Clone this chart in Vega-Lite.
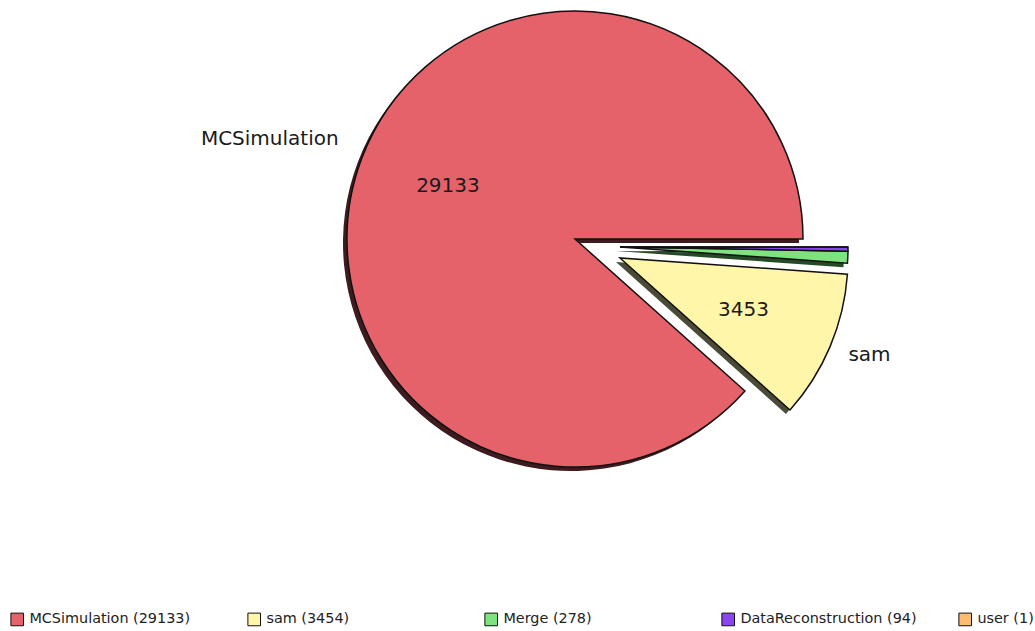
{
  "$schema": "https://vega.github.io/schema/vega-lite/v6.json",
  "width": 920,
  "height": 478,
  "padding": {"left": 115, "top": 0, "right": 0, "bottom": 153},
  "autosize": {"type": "none"},
  "background": "white",
  "config": {"view": {"stroke": null}},
  "data": {
    "values": [
      {"idx": 1, "name": "MCSimulation", "value": 29133, "shown": "29133", "legend": "MCSimulation (29133)"},
      {"idx": 2, "name": "sam", "value": 3454, "shown": "3453", "legend": "sam (3454)"},
      {"idx": 3, "name": "Merge", "value": 278, "shown": "278", "legend": "Merge (278)"},
      {"idx": 4, "name": "DataReconstruction", "value": 94, "shown": "94", "legend": "DataReconstruction (94)"},
      {"idx": 5, "name": "user", "value": 1, "shown": "1", "legend": "user (1)"}
    ]
  },
  "transform": [
    {"stack": "value", "groupby": [], "sort": [{"field": "idx", "order": "ascending"}], "as": ["s0", "s1"]}
  ],
  "layer": [
    {
      "transform": [{"filter": "datum.name === 'MCSimulation'"}],
      "mark": {"type": "arc", "outerRadius": 228, "fill": "#3d1b1e", "xOffset": -4, "yOffset": 4},
      "encoding": {
        "theta": {"field": "s0", "type": "quantitative", "scale": {"domain": [0, 32960], "range": [1.5707963268, -4.7123889804]}},
        "theta2": {"field": "s1"}
      }
    },
    {
      "transform": [{"filter": "datum.name === 'sam'"}],
      "mark": {"type": "arc", "outerRadius": 228, "fill": "#4a4a36", "xOffset": 41, "yOffset": 23},
      "encoding": {
        "theta": {"field": "s0", "type": "quantitative"},
        "theta2": {"field": "s1"}
      }
    },
    {
      "transform": [{"filter": "datum.name === 'Merge'"}],
      "mark": {"type": "arc", "outerRadius": 228, "fill": "#264a26", "xOffset": 41, "yOffset": 12},
      "encoding": {
        "theta": {"field": "s0", "type": "quantitative"},
        "theta2": {"field": "s1"}
      }
    },
    {
      "transform": [{"filter": "datum.name === 'DataReconstruction'"}],
      "mark": {"type": "arc", "outerRadius": 228, "fill": "#2a1a4a", "xOffset": 41, "yOffset": 12},
      "encoding": {
        "theta": {"field": "s0", "type": "quantitative"},
        "theta2": {"field": "s1"}
      }
    },
    {
      "transform": [{"filter": "datum.name === 'MCSimulation'"}],
      "mark": {"type": "arc", "outerRadius": 228, "stroke": "#111111", "strokeWidth": 1.5, "xOffset": 0, "yOffset": 0},
      "encoding": {
        "theta": {"field": "s0", "type": "quantitative"},
        "theta2": {"field": "s1"},
        "color": {
          "field": "legend", "type": "nominal",
          "scale": {
            "domain": ["MCSimulation (29133)", "sam (3454)", "Merge (278)", "DataReconstruction (94)", "user (1)"],
            "range": ["#e6626a", "#fff6aa", "#7ee27e", "#8a46ee", "#ffbb6e"]
          },
          "legend": {
            "title": null, "orient": "none", "legendX": -105, "legendY": 612,
            "direction": "horizontal", "columns": 5, "gridAlign": "all", "columnPadding": 39,
            "symbolType": "square", "symbolSize": 160, "symbolStrokeColor": "#555555", "symbolStrokeWidth": 1,
            "labelFont": "DejaVu Sans", "labelFontSize": 14.4, "labelColor": "#222222", "labelOffset": 5,
            "padding": 0, "labelLimit": 300
          }
        }
      }
    },
    {
      "transform": [{"filter": "datum.name === 'sam'"}],
      "mark": {"type": "arc", "outerRadius": 228, "stroke": "#111111", "strokeWidth": 1.5, "xOffset": 45, "yOffset": 19},
      "encoding": {
        "theta": {"field": "s0", "type": "quantitative"},
        "theta2": {"field": "s1"},
        "color": {"field": "legend", "type": "nominal"}
      }
    },
    {
      "transform": [{"filter": "datum.name === 'Merge'"}],
      "mark": {"type": "arc", "outerRadius": 228, "stroke": "#111111", "strokeWidth": 1.5, "xOffset": 45, "yOffset": 8},
      "encoding": {
        "theta": {"field": "s0", "type": "quantitative"},
        "theta2": {"field": "s1"},
        "color": {"field": "legend", "type": "nominal"}
      }
    },
    {
      "transform": [{"filter": "datum.name === 'DataReconstruction'"}],
      "mark": {"type": "arc", "outerRadius": 228, "stroke": "#111111", "strokeWidth": 1.5, "xOffset": 45, "yOffset": 8},
      "encoding": {
        "theta": {"field": "s0", "type": "quantitative"},
        "theta2": {"field": "s1"},
        "color": {"field": "legend", "type": "nominal"}
      }
    },
    {
      "transform": [{"filter": "datum.name === 'user'"}],
      "mark": {"type": "arc", "outerRadius": 228, "stroke": "#111111", "strokeWidth": 1, "xOffset": 45, "yOffset": 8},
      "encoding": {
        "theta": {"field": "s0", "type": "quantitative"},
        "theta2": {"field": "s1"},
        "color": {"field": "legend", "type": "nominal"}
      }
    },
    {
      "mark": {"type": "text", "radius": 136, "font": "DejaVu Sans", "fontSize": 20, "color": "#1a1a1a", "align": "center", "baseline": "middle", "dy": -4},
      "encoding": {
        "theta": {"field": "value", "type": "quantitative", "stack": true},
        "detail": {"field": "name"},
        "order": {"field": "idx", "type": "quantitative"},
        "text": {"condition": {"test": "datum.name === 'MCSimulation'", "field": "shown"}, "value": ""}
      }
    },
    {
      "mark": {"type": "text", "radius": 134, "font": "DejaVu Sans", "fontSize": 20, "color": "#1a1a1a", "align": "center", "baseline": "middle", "xOffset": 45, "yOffset": 19},
      "encoding": {
        "theta": {"field": "value", "type": "quantitative", "stack": true},
        "detail": {"field": "name"},
        "order": {"field": "idx", "type": "quantitative"},
        "text": {"condition": {"test": "datum.name === 'sam'", "field": "shown"}, "value": ""}
      }
    },
    {
      "mark": {"type": "text", "radius": 253, "font": "DejaVu Sans", "fontSize": 20, "color": "#1a1a1a", "align": "right", "baseline": "middle", "dy": -10},
      "encoding": {
        "theta": {"field": "value", "type": "quantitative", "stack": true},
        "detail": {"field": "name"},
        "order": {"field": "idx", "type": "quantitative"},
        "text": {"condition": {"test": "datum.name === 'MCSimulation'", "field": "name"}, "value": ""}
      }
    },
    {
      "mark": {"type": "text", "radius": 248, "font": "DejaVu Sans", "fontSize": 20, "color": "#1a1a1a", "align": "left", "baseline": "middle", "xOffset": 45, "yOffset": 19},
      "encoding": {
        "theta": {"field": "value", "type": "quantitative", "stack": true},
        "detail": {"field": "name"},
        "order": {"field": "idx", "type": "quantitative"},
        "text": {"condition": {"test": "datum.name === 'sam'", "field": "name"}, "value": ""}
      }
    }
  ]
}
